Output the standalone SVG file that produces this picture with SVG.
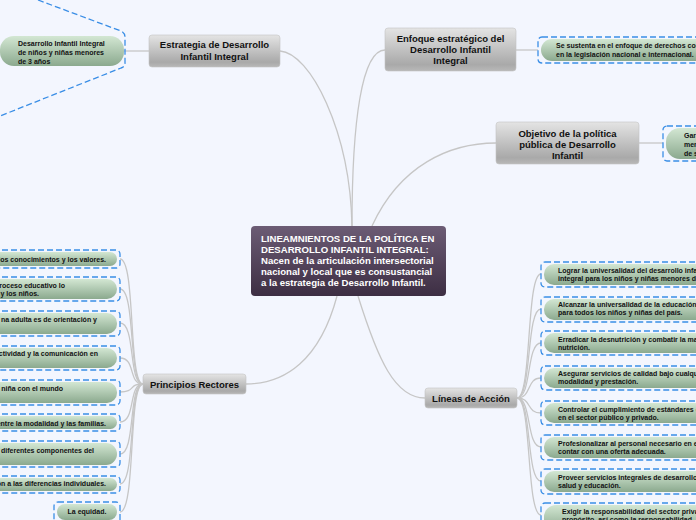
<svg xmlns="http://www.w3.org/2000/svg" width="696" height="520" viewBox="0 0 696 520">
<defs>
<linearGradient id="gGray" x1="0" y1="0" x2="0" y2="1"><stop offset="0" stop-color="#e4e4e4"/><stop offset="0.85" stop-color="#a9a9a9"/><stop offset="1" stop-color="#b8b8b8"/></linearGradient>
<linearGradient id="gCenter" x1="0" y1="0" x2="0" y2="1"><stop offset="0" stop-color="#6c5c75"/><stop offset="1" stop-color="#3d2e43"/></linearGradient>
<linearGradient id="gGreen" x1="0" y1="0" x2="0" y2="1"><stop offset="0" stop-color="#d3e7d3"/><stop offset="1" stop-color="#8ba98e"/></linearGradient>
<style>
.gray{fill:url(#gGray);stroke:#c4c4c4;stroke-width:0.6}
.center{fill:url(#gCenter)}
.pill{fill:url(#gGreen)}
.dash{fill:none;stroke:#3a8ee6;stroke-width:1.3;stroke-dasharray:6 3}
.con{fill:none;stroke:#c6c6c6;stroke-width:1.3}
.t{font-family:"Liberation Sans",Arial,sans-serif;font-weight:bold;fill:#111}
.tg{font-size:9.5px;text-anchor:middle}
.tc{font-size:9.6px;fill:#fff}
.ts{font-size:7px}
.te{font-size:7px;text-anchor:end}
</style>
</defs>
<rect width="696" height="520" fill="#f3f6fe"/>

<g id="connectors">
<path class="con" d="M280,51 C310,53 350,130 352,226"/>
<path class="con" d="M352,226 C352,120 362,50 385,50"/>
<path class="con" d="M372,226 C400,165 450,143 496,143"/>
<path class="con" d="M337,296 C320,360 285,384 246,384"/>
<path class="con" d="M358,296 C378,360 395,398 425,398"/>
<path class="con" d="M124,51 L149,51"/>
<path class="con" d="M516,50 L538,50"/>
<path class="con" d="M639,143 L663,143"/>
<path class="con" d="M143,384 C128,384 136,259 120,259"/>
<path class="con" d="M143,384 C128,384 136,289 120,289"/>
<path class="con" d="M143,384 C128,384 136,323 120,323"/>
<path class="con" d="M143,384 C128,384 136,358 120,358"/>
<path class="con" d="M143,384 C128,384 136,392 120,392"/>
<path class="con" d="M143,384 C128,384 136,422 120,422"/>
<path class="con" d="M143,384 C128,384 136,454 120,454"/>
<path class="con" d="M143,384 C128,384 136,484 120,484"/>
<path class="con" d="M143,384 C128,384 136,512 120,512"/>
<path class="con" d="M517,398 C532,398 526,274 541,274"/>
<path class="con" d="M517,398 C532,398 526,309 541,309"/>
<path class="con" d="M517,398 C532,398 526,343 541,343"/>
<path class="con" d="M517,398 C532,398 526,378 541,378"/>
<path class="con" d="M517,398 C532,398 526,413 541,413"/>
<path class="con" d="M517,398 C532,398 526,447 541,447"/>
<path class="con" d="M517,398 C532,398 526,481 541,481"/>
<path class="con" d="M517,398 C532,398 526,515 541,515"/>
</g>

<g id="central">
<rect class="center" x="251" y="226" width="195" height="70" rx="4"/>
<text class="t tc" x="261"><tspan x="261" y="241.5">LINEAMNIENTOS DE LA POLÍTICA EN</tspan><tspan x="261" y="252.5">DESARROLLO INFANTIL INTEGRAL:</tspan><tspan x="261" y="263.5">Nacen de la articulación intersectorial</tspan><tspan x="261" y="274.5">nacional y local que es consustancial</tspan><tspan x="261" y="285.5">a la estrategia de Desarrollo Infantil.</tspan></text>
</g>

<g id="estrategia">
<rect class="gray" x="149" y="35" width="131" height="32" rx="3"/>
<text class="t tg"><tspan x="214.5" y="48">Estrategia de Desarrollo</tspan><tspan x="214.5" y="60">Infantil Integral</tspan></text>
</g>
<g id="estrategia-hijo">
<path class="dash" d="M38,0 L121,31 Q125,33 125,37 L125,63 Q125,67 121,68 L0,116"/>
<rect class="pill" x="0" y="36" width="124" height="30" rx="14"/>
<text class="t ts"><tspan x="18" y="46">Desarrollo Infantil Integral</tspan><tspan x="18" y="55">de niños y niñas menores</tspan><tspan x="18" y="64">de 3 años</tspan></text>
</g>

<g id="enfoque">
<rect class="gray" x="385" y="28" width="131" height="43" rx="3"/>
<text class="t tg"><tspan x="450.5" y="42">Enfoque estratégico del</tspan><tspan x="450.5" y="53">Desarrollo Infantil</tspan><tspan x="450.5" y="64">Integral</tspan></text>
</g>
<g id="enfoque-hijo">
<rect class="dash" x="538" y="37" width="200" height="26" rx="4"/>
<rect class="pill" x="541" y="39" width="200" height="22" rx="11"/>
<text class="t ts"><tspan x="556" y="48">Se sustenta en el enfoque de derechos con</tspan><tspan x="556" y="57">en la legislación nacional e internacional.</tspan></text>
</g>

<g id="objetivo">
<rect class="gray" x="496" y="122" width="143" height="42" rx="3"/>
<text class="t tg"><tspan x="567.5" y="137">Objetivo de la política</tspan><tspan x="567.5" y="148">pública de Desarrollo</tspan><tspan x="567.5" y="159">Infantil</tspan></text>
</g>
<g id="objetivo-hijo">
<rect class="dash" x="663" y="126" width="80" height="35" rx="4"/>
<rect class="pill" x="666" y="128" width="80" height="31" rx="14"/>
<text class="t ts"><tspan x="684" y="138">Garantizar</tspan><tspan x="684" y="147">menores</tspan><tspan x="684" y="156">de seis</tspan></text>
</g>

<g id="principios">
<rect class="gray" x="143" y="374" width="103" height="20" rx="3"/>
<text class="t tg" x="194.5" y="388">Principios Rectores</text>
</g>
<g id="principio-1"><rect class="dash" x="-20" y="250" width="140" height="18" rx="4"/><rect class="pill" x="-20" y="252" width="137" height="14" rx="7"/><text class="t te" x="106" y="261.5">los conocimientos y los valores.</text></g>
<g id="principio-2"><rect class="dash" x="-20" y="277" width="140" height="24" rx="4"/><rect class="pill" x="-20" y="279" width="137" height="20" rx="10"/><text class="t te"><tspan x="65" y="287.5">roceso educativo lo</tspan><tspan x="39" y="295.5">y los niños.</tspan></text></g>
<g id="principio-3"><rect class="dash" x="-20" y="311" width="140" height="25" rx="4"/><rect class="pill" x="-20" y="313" width="137" height="21" rx="10"/><text class="t te" x="97" y="321.5">na adulta es de orientación y</text></g>
<g id="principio-4"><rect class="dash" x="-20" y="346" width="140" height="24" rx="4"/><rect class="pill" x="-20" y="348" width="137" height="20" rx="10"/><text class="t te" x="98" y="355.5">ctividad y la comunicación en</text></g>
<g id="principio-5"><rect class="dash" x="-20" y="380" width="140" height="25" rx="4"/><rect class="pill" x="-20" y="382" width="137" height="21" rx="10"/><text class="t te" x="63" y="390.5">niña con el mundo</text></g>
<g id="principio-6"><rect class="dash" x="-20" y="414" width="140" height="17" rx="4"/><rect class="pill" x="-20" y="416" width="137" height="13" rx="6.5"/><text class="t te" x="106" y="425.5">entre la modalidad y las familias.</text></g>
<g id="principio-7"><rect class="dash" x="-20" y="441" width="140" height="26" rx="4"/><rect class="pill" x="-20" y="443" width="137" height="22" rx="11"/><text class="t te" x="94" y="452.5">diferentes componentes del</text></g>
<g id="principio-8"><rect class="dash" x="-20" y="476" width="140" height="17" rx="4"/><rect class="pill" x="-20" y="478" width="137" height="13" rx="6.5"/><text class="t te" x="106" y="486">ón a las diferencias individuales.</text></g>
<g id="principio-9"><rect class="dash" x="54" y="502" width="66" height="24" rx="4"/><rect class="pill" x="57" y="504" width="60" height="16" rx="8"/><text class="t ts" x="87" y="514" text-anchor="middle">La equidad.</text></g>

<g id="lineas">
<rect class="gray" x="425" y="388" width="92" height="20" rx="3"/>
<text class="t tg" x="471" y="402">Líneas de Acción</text>
</g>
<g id="linea-1"><rect class="dash" x="541" y="262" width="200" height="25" rx="4"/><rect class="pill" x="544" y="264" width="200" height="21" rx="10"/><text class="t ts"><tspan x="558" y="273">Lograr la universalidad del desarrollo infantil</tspan><tspan x="558" y="281">integral para los niños y niñas menores de</tspan></text></g>
<g id="linea-2"><rect class="dash" x="541" y="297" width="200" height="25" rx="4"/><rect class="pill" x="544" y="299" width="200" height="21" rx="10"/><text class="t ts"><tspan x="558" y="307">Alcanzar la universalidad de la educación</tspan><tspan x="558" y="315">para todos los niños y niñas del país.</tspan></text></g>
<g id="linea-3"><rect class="dash" x="541" y="331" width="200" height="24" rx="4"/><rect class="pill" x="544" y="333" width="200" height="20" rx="10"/><text class="t ts"><tspan x="558" y="341.5">Erradicar la desnutrición y combatir la malnutrición</tspan><tspan x="558" y="349.5">nutrición.</tspan></text></g>
<g id="linea-4"><rect class="dash" x="541" y="366" width="200" height="24" rx="4"/><rect class="pill" x="544" y="368" width="200" height="20" rx="10"/><text class="t ts"><tspan x="558" y="376">Asegurar servicios de calidad bajo cualquier</tspan><tspan x="558" y="384">modalidad y prestación.</tspan></text></g>
<g id="linea-5"><rect class="dash" x="541" y="401" width="200" height="24" rx="4"/><rect class="pill" x="544" y="403" width="200" height="20" rx="10"/><text class="t ts"><tspan x="558" y="411.5">Controlar el cumplimiento de estándares en</tspan><tspan x="558" y="419.5">en el sector público y privado.</tspan></text></g>
<g id="linea-6"><rect class="dash" x="541" y="435" width="200" height="25" rx="4"/><rect class="pill" x="544" y="437" width="200" height="21" rx="10"/><text class="t ts"><tspan x="558" y="445.5">Profesionalizar al personal necesario en el</tspan><tspan x="558" y="453.5">contar con una oferta adecuada.</tspan></text></g>
<g id="linea-7"><rect class="dash" x="541" y="469" width="200" height="25" rx="4"/><rect class="pill" x="544" y="471" width="200" height="21" rx="10"/><text class="t ts"><tspan x="558" y="480">Proveer servicios integrales de desarrollo</tspan><tspan x="558" y="488">salud y educación.</tspan></text></g>
<g id="linea-8"><rect class="dash" x="541" y="503" width="200" height="30" rx="4"/><rect class="pill" x="544" y="505" width="200" height="26" rx="12"/><text class="t ts"><tspan x="562" y="514">Exigir la responsabilidad del sector privado</tspan><tspan x="562" y="522">propósito, así como la responsabilidad</tspan></text></g>
</svg>
